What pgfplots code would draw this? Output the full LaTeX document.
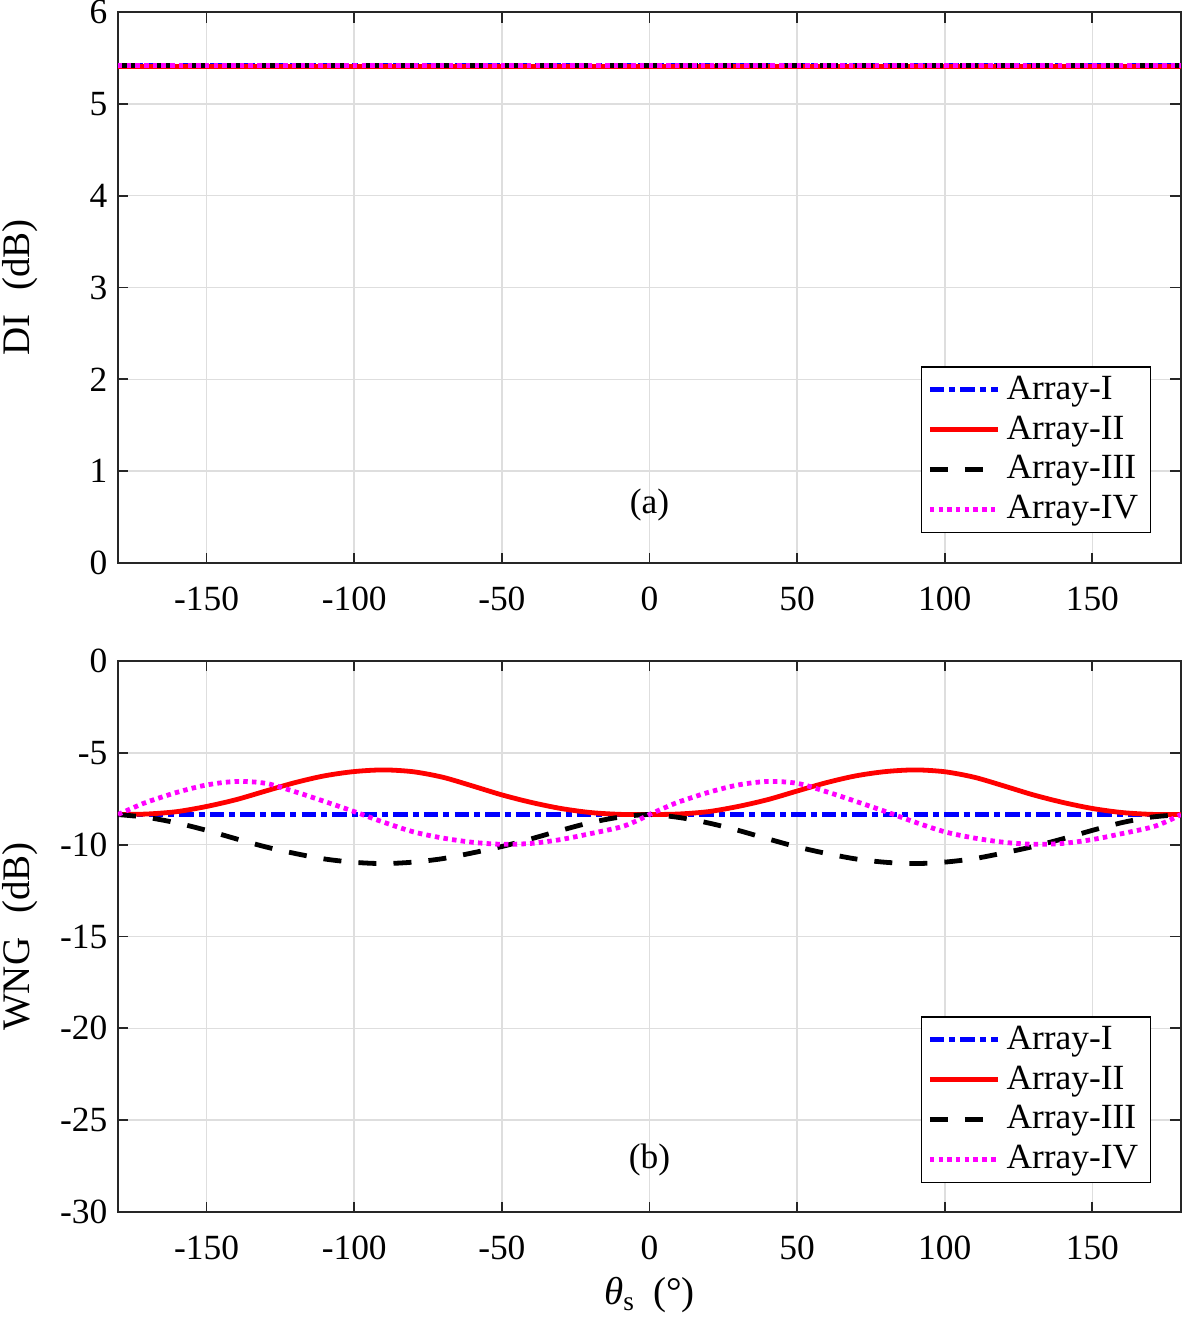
\documentclass[border=0pt]{standalone}
\usepackage{pgfplots}
\pgfplotsset{compat=1.18}
\usepackage{fontspec}
\setmainfont{Liberation Serif}
\definecolor{mmag}{RGB}{255,0,255}
\definecolor{mblue}{RGB}{0,0,255}
\definecolor{mred}{RGB}{255,0,0}
\newcommand{\fs}{\fontsize{11.8}{14}\selectfont}
\newcommand{\fl}{\fontsize{13}{15}\selectfont}
\pgfplotsset{
  mystyle/.style={
    width=354.33pt, height=183.67pt, scale only axis,
    xmin=-180, xmax=180, xtick={-150,-100,-50,0,50,100,150},
    grid=major, major grid style={line width=0.5pt, draw=black!13},
    axis line style={line width=0.6pt, draw=black!85},
    every tick/.style={line width=0.6pt, draw=black!85},
    major tick length=3.5pt, tick align=inside,
    ticklabel style={font=\fs},
    xticklabel style={yshift=-4.5pt},
    /pgf/number format/assume math mode=true,
    legend style={font=\fs, draw=black, line width=0.5pt, fill=white,
      anchor=south east, cells={anchor=west}, inner xsep=2pt, inner ysep=1pt},
    legend image code/.code={\draw[##1] plot coordinates {(0cm,0cm) (0.8cm,0cm)};},
    y label style={at={(axis description cs:-0.0922,0.5)}, anchor=center, font=\fl},
  },
  s1/.style={mblue, line width=1.6pt, dash pattern=on 4.8pt off 1.7pt on 2pt off 1.7pt},
  s2/.style={mred, line width=1.6pt},
  s3/.style={black, line width=1.6pt, dash pattern=on 6pt off 5.7pt},
  s4/.style={mmag, line width=1.6pt, dash pattern=on 1.5pt off 1.4pt},
}
\begin{document}
\begin{tikzpicture}
\useasboundingbox (-39.33pt,4pt) rectangle (354.67pt,-435pt);
% ---------- (a) ----------
\begin{axis}[mystyle, at={(0,0)}, anchor=north west,
  ymin=0, ymax=6, ytick={0,1,2,3,4,5,6},
  ylabel={DI\hspace{0.62em}(dB)},
  legend style={at={(0.9718,0.0544)}}]
\addplot[s1] coordinates {(-180,5.42) (-90,5.42) (0,5.42) (90,5.42) (180,5.42)};
\addplot[s2] coordinates {(-180,5.41) (-90,5.41) (0,5.41) (90,5.41) (180,5.41)};
\addplot[s3] coordinates {(-180,5.42) (-90,5.42) (0,5.42) (90,5.42) (180,5.42)};
\addplot[s4] coordinates {(-180,5.42) (-90,5.42) (0,5.42) (90,5.42) (180,5.42)};
\legend{Array-I,Array-II,Array-III,Array-IV}
\node[font=\fs] at (axis description cs:0.5,0.105) {(a)};
\end{axis}
% ---------- (b) ----------
\begin{axis}[mystyle, at={(0,-216.33pt)}, anchor=north west,
  ymin=-30, ymax=0, ytick={-30,-25,-20,-15,-10,-5,0},
  ylabel={WNG\hspace{0.62em}(dB)},
  xlabel={\textit{θ}\textsubscript{s}\hspace{0.45em}(°)},
  x label style={at={(axis description cs:0.5,-0.151)}, anchor=center, font=\fl},
  legend style={at={(0.9718,0.0526)}}]
\addplot[s1] coordinates {(-180,-8.36) (-90,-8.36) (0,-8.36) (90,-8.36) (180,-8.36)};
\addplot[s2, smooth] coordinates {
(-180,-8.36) (-170,-8.33) (-160,-8.20) (-150,-7.92) (-140,-7.55) (-130,-7.08)
(-120,-6.62) (-110,-6.25) (-100,-6.02) (-90,-5.93) (-80,-6.03) (-70,-6.33)
(-60,-6.80) (-50,-7.29) (-40,-7.70) (-30,-8.03) (-20,-8.25) (-10,-8.35)
(0,-8.36) (10,-8.33) (20,-8.20) (30,-7.92) (40,-7.55) (50,-7.08)
(60,-6.62) (70,-6.25) (80,-6.02) (90,-5.93) (100,-6.03) (110,-6.33)
(120,-6.80) (130,-7.29) (140,-7.70) (150,-8.03) (160,-8.25) (170,-8.35) (180,-8.36)};
\addplot[s3, smooth] coordinates {
(-180,-8.36) (-170,-8.52) (-160,-8.82) (-150,-9.22) (-140,-9.68) (-130,-10.12)
(-120,-10.48) (-110,-10.78) (-100,-10.96) (-90,-11.03) (-80,-10.95) (-70,-10.76)
(-60,-10.45) (-50,-10.10) (-40,-9.68) (-30,-9.22) (-20,-8.80) (-10,-8.50)
(0,-8.36) (10,-8.52) (20,-8.82) (30,-9.22) (40,-9.68) (50,-10.12)
(60,-10.48) (70,-10.78) (80,-10.96) (90,-11.03) (100,-10.95) (110,-10.76)
(120,-10.45) (130,-10.10) (140,-9.68) (150,-9.22) (160,-8.80) (170,-8.50) (180,-8.36)};
\addplot[s4, smooth] coordinates {
(-180,-8.36) (-175,-8.00) (-170,-7.67) (-160,-7.15) (-150,-6.75) (-140,-6.56)
(-130,-6.66) (-120,-7.12) (-110,-7.65) (-100,-8.20) (-90,-8.78) (-80,-9.30)
(-70,-9.64) (-60,-9.87) (-50,-9.98) (-40,-9.93) (-30,-9.72) (-20,-9.40)
(-10,-9.05) (-5,-8.75)
(0,-8.36) (5,-8.00) (10,-7.67) (20,-7.15) (30,-6.75) (40,-6.56)
(50,-6.66) (60,-7.12) (70,-7.65) (80,-8.20) (90,-8.78) (100,-9.30)
(110,-9.64) (120,-9.87) (130,-9.98) (140,-9.93) (150,-9.72) (160,-9.40)
(170,-9.05) (175,-8.75) (180,-8.36)};
\legend{Array-I,Array-II,Array-III,Array-IV}
\node[font=\fs] at (axis description cs:0.5,0.094) {(b)};
\end{axis}
\end{tikzpicture}
\end{document}
